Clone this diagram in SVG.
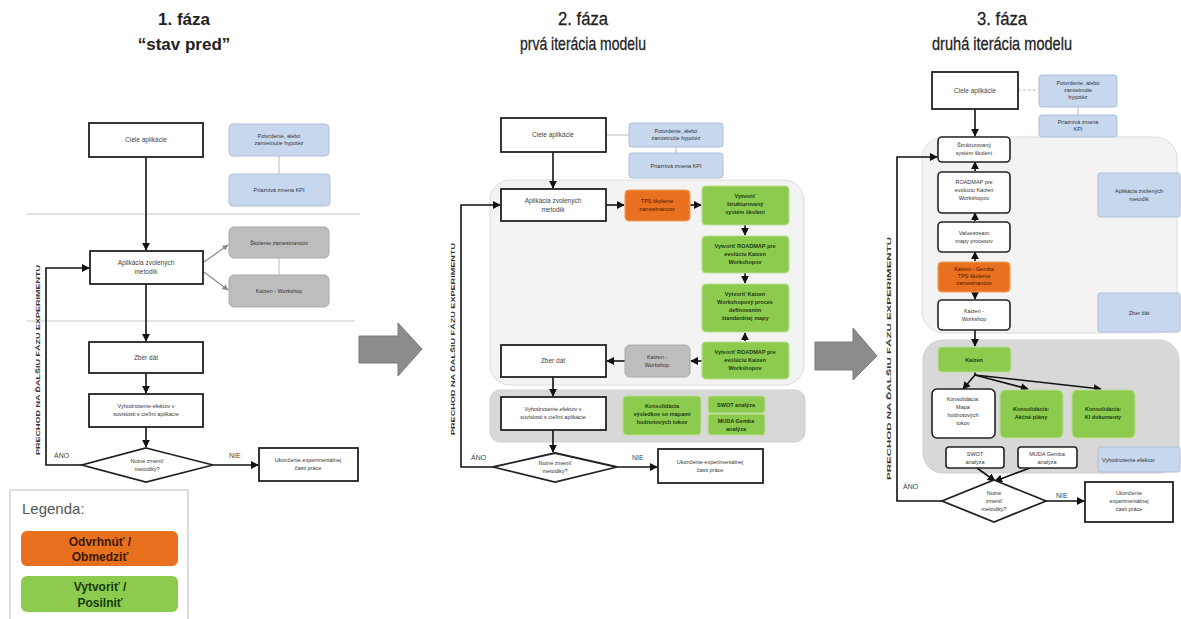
<svg xmlns="http://www.w3.org/2000/svg" width="1181" height="619" viewBox="0 0 1181 619">
<defs>
<marker id="ah" viewBox="0 0 10 10" refX="9" refY="5" markerWidth="5" markerHeight="5" orient="auto-start-reverse"><path d="M0,0 L10,5 L0,10 z" fill="#111"/></marker>
<marker id="ahg" viewBox="0 0 10 10" refX="9" refY="5" markerWidth="5" markerHeight="5" orient="auto"><path d="M0,0 L10,5 L0,10 z" fill="#8a8a8a"/></marker>
<style>
text{font-family:"Liberation Sans",Arial,sans-serif;fill:#333;}
.title{font-size:17px;font-weight:bold;fill:#222;text-anchor:middle;}
.title2{font-size:19px;fill:#222;text-anchor:middle;stroke:#222;stroke-width:0.3;}
.t{font-size:6.5px;text-anchor:middle;fill:#444;}
.ts{font-size:5.5px;text-anchor:middle;fill:#333;}
.tb{font-size:5.5px;text-anchor:middle;fill:#1d3a10;font-weight:bold;}
.lbl{font-size:7px;fill:#444;}
.vt{font-size:6px;font-weight:bold;fill:#333;}
.box{fill:#fff;stroke:#222;stroke-width:1.8;}
.rbox{fill:#fff;stroke:#222;stroke-width:1.6;}
.blue{fill:#c6d7ee;stroke:#aebfd8;stroke-width:1;}
.gray{fill:#bdbdbd;stroke:#aaa;stroke-width:1;}
.orange{fill:#e8701f;stroke:#f0a060;stroke-width:1.2;}
.green{fill:#8ccb4e;stroke:#b9e090;stroke-width:1.2;}
.region1{fill:#f3f3f3;stroke:#dcdcdc;stroke-width:1;}
.region2{fill:#d8d8d8;stroke:#cfcfcf;stroke-width:1;}
.sep{stroke:#c8c8c8;stroke-width:1.2;}
.c{stroke:#111;stroke-width:1.6;fill:none;marker-end:url(#ah);}
.cn{stroke:#111;stroke-width:1.6;fill:none;}
.cg{stroke:#8a8a8a;stroke-width:1.2;fill:none;marker-end:url(#ahg);}
.cl{stroke:#a8a8a8;stroke-width:0.8;fill:none;}
.big{fill:#8c8c8c;stroke:#7a7a7a;stroke-width:1;}
</style>
</defs>
<rect width="1181" height="619" fill="#fff"/>

<!-- Titles -->
<g id="titles">
<text class="title" x="184" y="25">1. fáza</text>
<text class="title" x="184" y="50">“stav pred”</text>
<text class="title2" x="583" y="25" textLength="50" lengthAdjust="spacingAndGlyphs">2. fáza</text>
<text class="title2" x="583" y="50" textLength="126" lengthAdjust="spacingAndGlyphs">prvá iterácia modelu</text>
<text class="title2" x="1002" y="25" textLength="50" lengthAdjust="spacingAndGlyphs">3. fáza</text>
<text class="title2" x="1002" y="50" textLength="140" lengthAdjust="spacingAndGlyphs">druhá iterácia modelu</text>
</g>

<!-- Regions / separators -->
<g id="regions">
<line class="sep" x1="27" y1="214" x2="360" y2="214"/>
<line class="sep" x1="27" y1="321" x2="355" y2="321"/>
<rect class="region1" x="490" y="180" width="314" height="205" rx="20"/>
<rect class="region2" x="490" y="390" width="315" height="52" rx="10"/>
<rect class="region1" x="922" y="137" width="255" height="196" rx="22"/>
<rect class="region2" x="923" y="340" width="256" height="133" rx="20"/>
</g>

<!-- Big arrows -->
<g id="phase-arrows">
<path class="big" d="M359,336 L398,336 L398,323 L422,349 L398,376 L398,363 L359,363 Z"/>
<path class="big" d="M815,342 L853,342 L853,328 L877,356 L853,380 L853,370 L815,370 Z"/>
</g>

<!-- Connectors -->
<g id="connectors">
<!-- phase 1 -->
<line class="c" x1="146" y1="157" x2="146" y2="250"/>
<line class="c" x1="146" y1="284" x2="146" y2="341"/>
<line class="c" x1="146" y1="373" x2="146" y2="393"/>
<line class="c" x1="146" y1="427" x2="146" y2="447"/>
<line class="c" x1="213" y1="465" x2="258" y2="465"/>
<polyline class="c" points="82,465 46,465 46,268 89,268"/>
<line class="cg" x1="204" y1="262" x2="228" y2="245"/>
<line class="cg" x1="204" y1="272" x2="228" y2="290"/>
<line class="cl" x1="279" y1="156" x2="279" y2="174"/>
<line class="cl" x1="279" y1="258" x2="279" y2="275"/>
<!-- phase 2 -->
<line class="cl" x1="606" y1="135" x2="629" y2="135"/>
<line class="cl" x1="676" y1="147" x2="676" y2="153"/>
<line class="c" x1="553" y1="152" x2="553" y2="188"/>
<line class="c" x1="606" y1="205" x2="624" y2="205"/>
<line class="c" x1="690" y1="205" x2="701" y2="205"/>
<line class="c" x1="745" y1="225" x2="745" y2="235"/>
<line class="c" x1="745" y1="273" x2="745" y2="283"/>
<line class="c" x1="745" y1="341" x2="745" y2="333"/>
<line class="c" x1="702" y1="361" x2="691" y2="361"/>
<line class="c" x1="625" y1="361" x2="607" y2="361"/>
<line class="c" x1="553" y1="377" x2="553" y2="396"/>
<line class="c" x1="553" y1="430" x2="553" y2="452"/>
<line class="c" x1="617" y1="467" x2="657" y2="467"/>
<polyline class="c" points="493,467 461,467 461,205 500,205"/>
<!-- phase 3 -->
<line class="cl" x1="1018" y1="90" x2="1039" y2="90" stroke-dasharray="3,2"/>
<line class="cl" x1="1078" y1="107" x2="1078" y2="115"/>
<line class="c" x1="975" y1="109" x2="975" y2="136"/>
<line class="c" x1="975" y1="171" x2="975" y2="162"/>
<line class="c" x1="975" y1="221" x2="975" y2="213"/>
<line class="c" x1="975" y1="261" x2="975" y2="252"/>
<line class="c" x1="975" y1="292" x2="975" y2="299"/>
<line class="c" x1="975" y1="330" x2="975" y2="346"/>
<line class="cn" x1="975" y1="372" x2="975" y2="375"/>
<line class="c" x1="975" y1="375" x2="963" y2="389"/>
<line class="c" x1="975" y1="375" x2="1028" y2="389"/>
<line class="c" x1="975" y1="375" x2="1101" y2="389"/>
<line class="c" x1="977" y1="468" x2="995" y2="481"/>
<line class="c" x1="1030" y1="468" x2="995" y2="481"/>
<line class="c" x1="1046" y1="501" x2="1084" y2="501"/>
<polyline class="c" points="942,501 897,501 897,157 937,157"/>
</g>

<!-- Phase 1 nodes -->
<g id="p1-ciele"><rect class="box" x="89" y="123" width="114" height="34"/><text class="t" x="146" y="142">Ciele aplikácie</text></g>
<g id="p1-potvrdenie"><rect class="blue" x="229" y="124" width="100" height="32" rx="4"/><text class="ts" x="279" y="138">Potvrdenie, alebo</text><text class="ts" x="279" y="145">zamietnutie hypotéz</text></g>
<g id="p1-kpi"><rect class="blue" x="229" y="174" width="101" height="32" rx="4"/><text class="ts" x="279" y="192">Priaznivá zmena KPI</text></g>
<g id="p1-aplikacia"><rect class="box" x="90" y="251" width="113" height="33"/><text class="t" x="146" y="265">Aplikácia zvolených</text><text class="t" x="146" y="274">metodík</text></g>
<g id="p1-skolenie"><rect class="gray" x="229" y="227" width="100" height="31" rx="5"/><text class="ts" x="279" y="245">Školenie zamestnancov</text></g>
<g id="p1-kaizen"><rect class="gray" x="229" y="275" width="100" height="32" rx="5"/><text class="ts" x="279" y="293">Kaizen - Workshop</text></g>
<g id="p1-zber"><rect class="box" x="89" y="342" width="114" height="31"/><text class="t" x="146" y="360">Zber dát</text></g>
<g id="p1-vyhod"><rect class="box" x="89" y="394" width="114" height="33"/><text class="ts" x="146" y="408">Vyhodnotenie efektov v</text><text class="ts" x="146" y="416">súvislosti s cieľmi aplikácie</text></g>
<g id="p1-diamond"><polygon class="box" points="146,448 213,465 146,482 82,465"/><text class="ts" x="147" y="463">Nutné zmeniť</text><text class="ts" x="147" y="471">metodiky?</text></g>
<g id="p1-ukoncenie"><rect class="box" x="259" y="448" width="99" height="33" stroke-width="1.2"/><text class="ts" x="308" y="462">Ukončenie experimentálnej</text><text class="ts" x="308" y="470">časti práce</text></g>
<g id="p1-labels">
<text class="lbl" x="54" y="458">ÁNO</text>
<text class="lbl" x="229" y="458">NIE</text>
<text class="vt" transform="translate(40,455) rotate(-90)" textLength="190" lengthAdjust="spacingAndGlyphs">PRECHOD NA ĎALŠIU FÁZU EXPERIMENTU</text>
</g>

<!-- Legend -->
<g id="legend">
<rect x="10" y="490" width="178" height="135" fill="#fff" stroke="#bbb" stroke-width="1"/>
<text x="22" y="514" style="font-size:15px;fill:#555">Legenda:</text>
<rect x="21" y="531" width="157" height="35" rx="6" fill="#e8701f"/>
<text x="100" y="546" style="font-size:12px;font-weight:bold;fill:#3a1a05;text-anchor:middle">Odvrhnúť /</text>
<text x="100" y="561" style="font-size:12px;font-weight:bold;fill:#3a1a05;text-anchor:middle">Obmedziť</text>
<rect x="21" y="576" width="157" height="36" rx="6" fill="#8ccb4e"/>
<text x="100" y="591" style="font-size:12px;font-weight:bold;fill:#173a0a;text-anchor:middle">Vytvoriť /</text>
<text x="100" y="607" style="font-size:12px;font-weight:bold;fill:#173a0a;text-anchor:middle">Posilniť</text>
</g>

<!-- Phase 2 nodes -->
<g id="p2-ciele"><rect class="box" x="501" y="118" width="105" height="34"/><text class="t" x="553" y="137">Ciele aplikácie</text></g>
<g id="p2-potvrdenie"><rect class="blue" x="629" y="123" width="94" height="24" rx="3"/><text class="ts" x="676" y="133">Potvrdenie, alebo</text><text class="ts" x="676" y="140">zamietnutie hypotéz</text></g>
<g id="p2-kpi"><rect class="blue" x="629" y="153" width="94" height="25" rx="3"/><text class="ts" x="676" y="168">Priaznivá zmena KPI</text></g>
<g id="p2-aplikacia"><rect class="box" x="501" y="189" width="105" height="32"/><text class="t" x="553" y="203">Aplikácia zvolených</text><text class="t" x="553" y="212">metodík</text></g>
<g id="p2-tps"><rect class="orange" x="625" y="190" width="65" height="31" rx="4"/><text class="ts" x="657" y="203" style="fill:#4a1800">TPS školenie</text><text class="ts" x="657" y="211" style="fill:#4a1800">zamestnancov</text></g>
<g id="p2-g1"><rect class="green" x="702" y="186" width="87" height="39" rx="4"/><text class="tb" x="745" y="198">Vytvoriť</text><text class="tb" x="745" y="206">štrukturovaný</text><text class="tb" x="745" y="214">systém školení</text></g>
<g id="p2-g2"><rect class="green" x="702" y="236" width="87" height="37" rx="4"/><text class="tb" x="745" y="248">Vytvoriť ROADMAP pre</text><text class="tb" x="745" y="256">evolúciu Kaizen</text><text class="tb" x="745" y="264">Workshopov</text></g>
<g id="p2-g3"><rect class="green" x="702" y="284" width="87" height="48" rx="4"/><text class="tb" x="745" y="296">Vytvoriť Kaizen</text><text class="tb" x="745" y="304">Workshopový proces</text><text class="tb" x="745" y="312">definovaním</text><text class="tb" x="745" y="320">štandardnej mapy</text></g>
<g id="p2-g4"><rect class="green" x="702" y="342" width="87" height="37" rx="4"/><text class="tb" x="745" y="354">Vytvoriť ROADMAP pre</text><text class="tb" x="745" y="362">evolúciu Kaizen</text><text class="tb" x="745" y="370">Workshopov</text></g>
<g id="p2-kaizen"><rect class="gray" x="625" y="345" width="65" height="32" rx="5"/><text class="ts" x="657" y="359">Kaizen -</text><text class="ts" x="657" y="367">Workshop</text></g>
<g id="p2-zber"><rect class="box" x="501" y="345" width="105" height="32"/><text class="t" x="553" y="363">Zber dát</text></g>
<g id="p2-vyhod"><rect class="box" x="501" y="397" width="105" height="33"/><text class="ts" x="553" y="411">Vyhodnotenie efektov v</text><text class="ts" x="553" y="419">súvislosti s cieľmi aplikácie</text></g>
<g id="p2-konsolidacia"><rect class="green" x="623" y="396" width="78" height="39" rx="4"/><text class="tb" x="662" y="408">Konsolidácia</text><text class="tb" x="662" y="416">výsledkov so mapami</text><text class="tb" x="662" y="424">hodnotových tokov</text></g>
<g id="p2-swot"><rect class="green" x="708" y="396" width="57" height="17" rx="3"/><text class="tb" x="736" y="407">SWOT analýza</text></g>
<g id="p2-muda"><rect class="green" x="708" y="414" width="57" height="21" rx="3"/><text class="tb" x="736" y="423">MUDA Gemba</text><text class="tb" x="736" y="431">analýza</text></g>
<g id="p2-diamond"><polygon class="box" points="555,453 617,467 555,482 493,467"/><text class="ts" x="555" y="465">Nutné zmeniť</text><text class="ts" x="555" y="473">metodiky?</text></g>
<g id="p2-ukoncenie"><rect class="box" x="658" y="449" width="105" height="34" stroke-width="1.4"/><text class="ts" x="710" y="464">Ukončenie experimentálnej</text><text class="ts" x="710" y="472">časti práce</text></g>
<g id="p2-labels">
<text class="lbl" x="471" y="460">ÁNO</text>
<text class="lbl" x="632" y="460">NIE</text>
<text class="vt" transform="translate(455,435) rotate(-90)" textLength="192" lengthAdjust="spacingAndGlyphs">PRECHOD NA ĎALŠIU FÁZU EXPERIMENTU</text>
</g>

<!-- Phase 3 nodes -->
<g id="p3-ciele"><rect class="box" x="932" y="72" width="86" height="37"/><text class="t" x="975" y="93">Ciele aplikácie</text></g>
<g id="p3-potvrdenie"><rect class="blue" x="1039" y="75" width="78" height="32" rx="3"/><text class="ts" x="1078" y="85">Potvrdenie, alebo</text><text class="ts" x="1078" y="92">zamietnutie</text><text class="ts" x="1078" y="99">hypotéz</text></g>
<g id="p3-kpi"><rect class="blue" x="1039" y="115" width="78" height="22" rx="3"/><text class="ts" x="1078" y="124">Priaznivá zmena</text><text class="ts" x="1078" y="131">KPI</text></g>
<g id="p3-struktur"><rect class="rbox" x="938" y="137" width="72" height="25" rx="4"/><text class="ts" x="974" y="147">Štrukturovaný</text><text class="ts" x="974" y="155">systém školení</text></g>
<g id="p3-roadmap"><rect class="rbox" x="938" y="172" width="72" height="41" rx="4"/><text class="ts" x="974" y="184">ROADMAP pre</text><text class="ts" x="974" y="192">evolúciu Kaizen</text><text class="ts" x="974" y="200">Workshopov</text></g>
<g id="p3-vsm"><rect class="rbox" x="938" y="222" width="72" height="30" rx="4"/><text class="ts" x="974" y="235">Valuestream</text><text class="ts" x="974" y="243">mapy procesov</text></g>
<g id="p3-orange"><rect class="orange" x="938" y="262" width="72" height="30" rx="4"/><text class="ts" x="974" y="271" style="fill:#4a1800">Kaizen - Gemba</text><text class="ts" x="974" y="278" style="fill:#4a1800">TPS školenie</text><text class="ts" x="974" y="285" style="fill:#4a1800">zamestnancov</text></g>
<g id="p3-kaizenws"><rect class="rbox" x="938" y="300" width="72" height="30" rx="4"/><text class="ts" x="974" y="313">Kaizen -</text><text class="ts" x="974" y="321">Workshop</text></g>
<g id="p3-aplikacia"><rect class="blue" x="1098" y="173" width="82" height="44" rx="2"/><text class="ts" x="1139" y="193">Aplikácia zvolených</text><text class="ts" x="1139" y="201">metodík</text></g>
<g id="p3-zber"><rect class="blue" x="1098" y="293" width="82" height="39" rx="2"/><text class="ts" x="1139" y="315">Zber dát</text></g>
<g id="p3-kaizen"><rect class="green" x="938" y="347" width="73" height="25" rx="4"/><text class="tb" x="974" y="362">Kaizen</text></g>
<g id="p3-mapa"><rect class="rbox" x="932" y="389" width="63" height="49" rx="5"/><text class="ts" x="963" y="401">Konsolidácia:</text><text class="ts" x="963" y="409">Mapa</text><text class="ts" x="963" y="417">hodnotových</text><text class="ts" x="963" y="425">tokov</text></g>
<g id="p3-akcne"><rect class="green" x="1000" y="390" width="63" height="48" rx="5"/><text class="tb" x="1031" y="411">Konsolidácia:</text><text class="tb" x="1031" y="419">Akčné plány</text></g>
<g id="p3-ki"><rect class="green" x="1072" y="390" width="63" height="48" rx="5"/><text class="tb" x="1103" y="411">Konsolidácia:</text><text class="tb" x="1103" y="419">KI dokumenty</text></g>
<g id="p3-swot"><rect class="rbox" x="946" y="447" width="58" height="21" rx="3"/><text class="ts" x="975" y="456">SWOT</text><text class="ts" x="975" y="464">analýza</text></g>
<g id="p3-muda"><rect class="rbox" x="1018" y="447" width="59" height="21" rx="3"/><text class="ts" x="1047" y="456">MUDA Gemba</text><text class="ts" x="1047" y="464">analýza</text></g>
<g id="p3-vyhod"><rect class="blue" x="1098" y="447" width="82" height="25" rx="2"/><text class="ts" x="1102" y="462" style="text-anchor:start">Vyhodnotenie efektov</text></g>
<g id="p3-diamond"><polygon class="box" points="994,480 1046,501 994,522 942,501"/><text class="ts" x="994" y="495">Nutné</text><text class="ts" x="994" y="503">zmeniť</text><text class="ts" x="994" y="511">metodiky?</text></g>
<g id="p3-ukoncenie"><rect class="box" x="1085" y="482" width="88" height="40" stroke-width="1.4"/><text class="ts" x="1129" y="495">Ukončenie</text><text class="ts" x="1129" y="503">experimentálnej</text><text class="ts" x="1129" y="511">časti práce</text></g>
<g id="p3-labels">
<text class="lbl" x="903" y="489">ÁNO</text>
<text class="lbl" x="1056" y="498">NIE</text>
<text class="vt" transform="translate(891,480) rotate(-90)" textLength="243" lengthAdjust="spacingAndGlyphs">PRECHOD NA ĎALŠIU FÁZU EXPERIMENTU</text>
</g>
</svg>
